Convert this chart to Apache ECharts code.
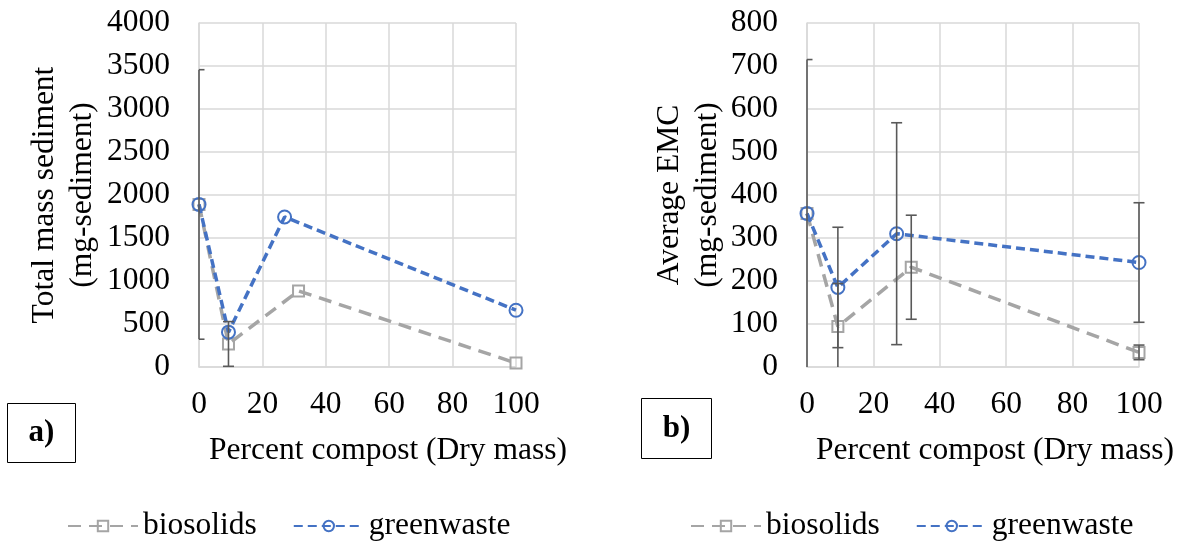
<!DOCTYPE html>
<html>
<head>
<meta charset="utf-8">
<title>Sediment vs compost</title>
<script src="https://cdn.jsdelivr.net/npm/echarts@6/dist/echarts.min.js"></script>
<style>
  html, body { margin: 0; padding: 0; background: #fff; }
  #main { width: 1182px; height: 544px; }
</style>
</head>
<body>
<div id="main"></div>
<script>
// x positions (percent compost, dry mass)
var bioX = [0, 9.3, 31.4, 100]
var gwX = [0, 9.3, 27, 100]

// a) total mass sediment (mg-sediment)
var totalBio = [1890, 268, 885, 46]
var totalBioErr = [0, 260, 0, 0]
var totalGw = [1890, 405, 1745, 660]
var totalGwErr = [1567, 0, 0, 0]

// b) average EMC (mg-sediment)
var emcBio = [357, 94, 232, 34]
var emcBioErr = [0, 100, 121, 17]
var emcGw = [357, 185, 310, 243]
var emcGwErr = [358, 140, 258, 139]

var seriesNames = ['biosolids', 'greenwaste']
var xTitle = 'Percent compost (Dry mass)'
var yTitles = ['Total mass sediment\n(mg-sediment)', 'Average EMC\n(mg-sediment)']
var panelTags = ['a)', 'b)']

var FONT = 'Liberation Serif'
var FS = 31.5
var GRAY = '#a5a5a5'
var BLUE = '#4472c4'
var GRID_LINE = '#d9d9d9'

function pairs(xs, ys) {
  var out = []
  xs.forEach(function (x, i) {
    out.push([x, ys[i]])
  })
  return out
}
// [x, low, high] for each point that has a bar
function errData(xs, ys, errs) {
  var out = []
  xs.forEach(function (x, i) {
    if (errs[i] > 0) out.push([x, ys[i] - errs[i], ys[i] + errs[i]])
  })
  return out
}

function renderErrBar(params, api) {
  var cs = params.coordSys
  var x = api.value(0)
  var lo = api.value(1)
  var hi = api.value(2)
  var yMin = api.coord([x, 0])[1]
  var top = api.coord([x, hi])
  var bot = api.coord([x, lo])
  var half = 5.5
  var left = Math.max(top[0] - half, cs.x)
  var style = { stroke: '#595959', lineWidth: 1.6 }
  var kids = []
  var y2 = bot[1] > yMin ? yMin : bot[1]
  kids.push({ type: 'line', shape: { x1: top[0], y1: top[1], x2: top[0], y2: y2 }, style: style })
  kids.push({ type: 'line', shape: { x1: left, y1: top[1], x2: top[0] + half, y2: top[1] }, style: style })
  if (lo >= 0) {
    kids.push({ type: 'line', shape: { x1: left, y1: bot[1], x2: bot[0] + half, y2: bot[1] }, style: style })
  }
  return { type: 'group', children: kids }
}

function bioSeries(idx, data) {
  return {
    name: seriesNames[0], type: 'line', xAxisIndex: idx, yAxisIndex: idx,
    data: data, symbol: 'rect', symbolSize: 11, z: 3,
    lineStyle: { color: GRAY, width: 3.5, type: [13, 8] },
    itemStyle: { color: 'transparent', borderColor: GRAY, borderWidth: 2 }
  }
}
function gwSeries(idx, data) {
  return {
    name: seriesNames[1], type: 'line', xAxisIndex: idx, yAxisIndex: idx,
    data: data, symbol: 'circle', symbolSize: 13, z: 4,
    lineStyle: { color: BLUE, width: 3.5, type: [9, 5] },
    itemStyle: { color: 'transparent', borderColor: BLUE, borderWidth: 2 }
  }
}
function errSeries(idx, data) {
  return {
    type: 'custom', xAxisIndex: idx, yAxisIndex: idx, z: 5,
    renderItem: renderErrBar, data: data, silent: true
  }
}

function xAxisOpt(idx, shift) {
  return {
    gridIndex: idx, type: 'value', min: 0, max: 100, interval: 20,
    axisLine: { show: true, lineStyle: { color: GRID_LINE, width: 1.5 } },
    axisTick: { show: false },
    splitLine: { lineStyle: { color: GRID_LINE, width: 1.5 } },
    axisLabel: { color: '#000', fontFamily: FONT, fontSize: FS, margin: 22 },
    name: xTitle, nameLocation: 'middle', nameGap: 68,
    nameTextStyle: { color: '#000', fontFamily: FONT, fontSize: FS, padding: [0, 0, 0, shift] }
  }
}
function yAxisOpt(idx, max, step, gap) {
  return {
    gridIndex: idx, type: 'value', min: 0, max: max, interval: step,
    axisLine: { show: true, lineStyle: { color: GRID_LINE, width: 1.5 } },
    axisTick: { show: false },
    splitLine: { lineStyle: { color: GRID_LINE, width: 1.5 } },
    axisLabel: { color: '#000', fontFamily: FONT, fontSize: FS, margin: 29, formatter: function (v) { return String(v) } },
    name: yTitles[idx], nameLocation: 'middle', nameGap: gap,
    nameTextStyle: { color: '#000', fontFamily: FONT, fontSize: FS, lineHeight: 38 }
  }
}
function legendOpt(left) {
  return {
    data: seriesNames, left: left, top: 505, itemWidth: 70, itemHeight: 13, itemGap: 36,
    textStyle: { color: '#000', fontFamily: FONT, fontSize: FS }
  }
}
function tagBox(x, y, w, h, txt) {
  return {
    type: 'group', left: x, top: y,
    children: [
      { type: 'rect', shape: { x: 0, y: 0, width: w, height: h }, style: { fill: '#fff', stroke: '#000', lineWidth: 1 } },
      { type: 'text', x: w / 2, y: h / 2, style: { text: txt, fill: '#000', font: 'bold 31px "Liberation Serif"', align: 'center', verticalAlign: 'middle' } }
    ]
  }
}

var chart = echarts.init(document.getElementById('main'), null, { renderer: 'canvas' })
chart.setOption({
  backgroundColor: '#fff',
  animation: false,
  textStyle: { fontFamily: FONT },
  grid: [
    { left: 199, top: 23, width: 317, height: 344, outerBoundsMode: 'none', containLabel: false },
    { left: 807, top: 23, width: 332, height: 344, outerBoundsMode: 'none', containLabel: false }
  ],
  xAxis: [xAxisOpt(0, 61), xAxisOpt(1, 44)],
  yAxis: [yAxisOpt(0, 4000, 500, 97), yAxisOpt(1, 800, 100, 80)],
  legend: [legendOpt(62), legendOpt(685)],
  graphic: [
    tagBox(7, 403, 68, 59, panelTags[0]),
    tagBox(641, 398, 70, 60, panelTags[1])
  ],
  series: [
    bioSeries(0, pairs(bioX, totalBio)),
    gwSeries(0, pairs(gwX, totalGw)),
    errSeries(0, errData(bioX, totalBio, totalBioErr).concat(errData(gwX, totalGw, totalGwErr))),
    bioSeries(1, pairs(bioX, emcBio)),
    gwSeries(1, pairs(gwX, emcGw)),
    errSeries(1, errData(bioX, emcBio, emcBioErr).concat(errData(gwX, emcGw, emcGwErr)))
  ]
})
</script>
</body>
</html>
